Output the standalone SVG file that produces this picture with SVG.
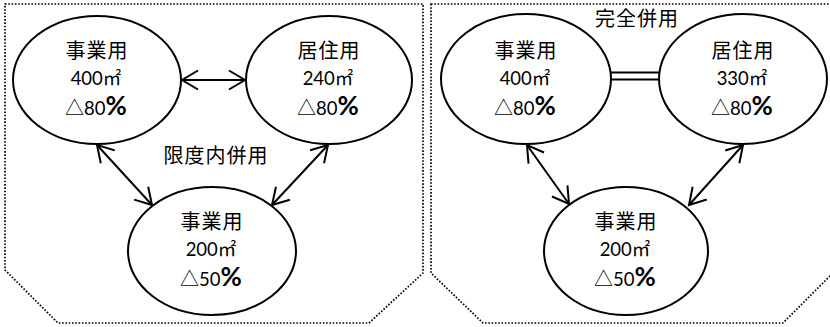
<svg xmlns="http://www.w3.org/2000/svg" width="830" height="327" viewBox="0 0 830 327">
<style>
.frame{fill:none;stroke:#000;stroke-width:1.7;stroke-dasharray:1.6 1.7}
.node{fill:#fff;stroke:#000;stroke-width:2}
.conn{fill:none;stroke:#000;stroke-width:2}
.jp{font-family:"Noto Sans CJK JP","Noto Sans CJK SC",sans-serif;font-size:20px;letter-spacing:1px;fill:#000;text-anchor:middle}
.num{font-family:Lato,"Noto Sans CJK JP",sans-serif;font-size:18.5px;fill:#000;text-anchor:middle}
.pct{font-family:Lato,"Liberation Sans",sans-serif;font-size:26px;font-weight:bold}
.tri{font-family:"Noto Sans CJK JP",sans-serif;font-size:19px}
</style>
<defs>
<marker id="arr" markerUnits="userSpaceOnUse" markerWidth="40" markerHeight="40" viewBox="-20 -20 40 40" refX="0" refY="0" orient="auto-start-reverse" overflow="visible">
<path d="M-16,-9.5 L0,0 L-16,9.5" fill="none" stroke="#000" stroke-width="2"/>
</marker>
</defs>
<rect width="830" height="327" fill="#fff"/>
<g id="frames">
<polygon class="frame" points="5,4 423,4 423,273 369,323 58,323 5,270"/>
<polygon class="frame" points="431,4 834,4 834,272 783,323 483,323 431,273"/>
</g>
<g id="connectors">
<line class="conn" x1="182" y1="80" x2="245" y2="80" marker-start="url(#arr)" marker-end="url(#arr)"/>
<line class="conn" x1="97" y1="145" x2="152" y2="205" marker-start="url(#arr)" marker-end="url(#arr)"/>
<line class="conn" x1="328" y1="145" x2="272" y2="205" marker-start="url(#arr)" marker-end="url(#arr)"/>
<line class="conn" x1="610" y1="72.5" x2="660" y2="72.5"/>
<line class="conn" x1="610" y1="79.5" x2="660" y2="79.5"/>
<line class="conn" x1="527" y1="145" x2="569" y2="204" marker-start="url(#arr)" marker-end="url(#arr)"/>
<line class="conn" x1="743" y1="145" x2="689" y2="205" marker-start="url(#arr)" marker-end="url(#arr)"/>
</g>
<g id="n1">
<ellipse class="node" cx="97" cy="80" rx="84" ry="64"/>
<text class="jp" x="97" y="58">事業用</text>
<text class="num" x="96" y="85">400㎡</text>
<text class="num" x="96" y="115"><tspan class="tri">△</tspan>80<tspan class="pct">%</tspan></text>
</g>
<g id="n2">
<ellipse class="node" cx="329" cy="80" rx="83" ry="64"/>
<text class="jp" x="329" y="58">居住用</text>
<text class="num" x="328" y="85">240㎡</text>
<text class="num" x="328" y="115"><tspan class="tri">△</tspan>80<tspan class="pct">%</tspan></text>
</g>
<g id="n3">
<ellipse class="node" cx="212" cy="251" rx="84" ry="64"/>
<text class="jp" x="212" y="229">事業用</text>
<text class="num" x="211" y="256">200㎡</text>
<text class="num" x="211" y="286"><tspan class="tri">△</tspan>50<tspan class="pct">%</tspan></text>
</g>
<g id="n4">
<ellipse class="node" cx="526" cy="79" rx="85" ry="65"/>
<text class="jp" x="526" y="58">事業用</text>
<text class="num" x="525" y="85">400㎡</text>
<text class="num" x="525" y="115"><tspan class="tri">△</tspan>80<tspan class="pct">%</tspan></text>
</g>
<g id="n5">
<ellipse class="node" cx="743" cy="79" rx="84" ry="65"/>
<text class="jp" x="743" y="58">居住用</text>
<text class="num" x="742" y="85">330㎡</text>
<text class="num" x="742" y="115"><tspan class="tri">△</tspan>80<tspan class="pct">%</tspan></text>
</g>
<g id="n6">
<ellipse class="node" cx="626" cy="251" rx="82" ry="64"/>
<text class="jp" x="626" y="229">事業用</text>
<text class="num" x="625" y="256">200㎡</text>
<text class="num" x="625" y="286"><tspan class="tri">△</tspan>50<tspan class="pct">%</tspan></text>
</g>
<g id="labels">
<text class="jp" x="216" y="163">限度内併用</text>
<text class="jp" x="637" y="26">完全併用</text>
</g>
</svg>
